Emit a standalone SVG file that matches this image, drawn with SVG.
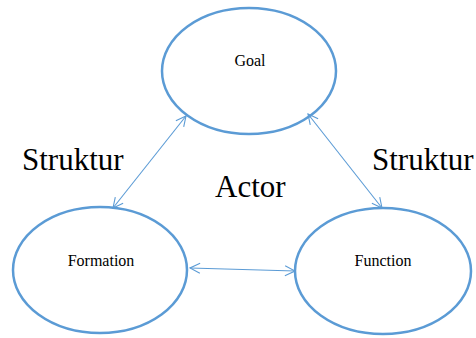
<svg xmlns="http://www.w3.org/2000/svg" width="476" height="338" viewBox="0 0 476 338">
<style>
.node{fill:#fff;stroke:#5B9BD5;stroke-width:2.5}
.lbl{font-family:"Liberation Serif","Times New Roman",serif;fill:#000}
.small{font-size:16px}
.big{font-size:31px}
.conn{stroke:#5B9BD5;stroke-width:1.1;fill:none;marker-start:url(#ah);marker-end:url(#ah)}
</style>
<defs>
<marker id="ah" viewBox="0 0 12 12" refX="11" refY="6" markerWidth="12" markerHeight="12" markerUnits="userSpaceOnUse" orient="auto-start-reverse">
<path d="M1,1 L11,6 L1,11" fill="none" stroke="#5B9BD5" stroke-width="1.1"/>
</marker>
</defs>
<rect width="476" height="338" fill="#fff"/>
<g id="goal">
<ellipse class="node" cx="249" cy="71" rx="87" ry="63"/>
<text class="lbl small" x="250" y="66" text-anchor="middle">Goal</text>
</g>
<g id="formation">
<ellipse class="node" cx="100" cy="270" rx="87" ry="63"/>
<text class="lbl small" x="101" y="266" text-anchor="middle">Formation</text>
</g>
<g id="function">
<ellipse class="node" cx="383" cy="271" rx="88" ry="63"/>
<text class="lbl small" x="383" y="266" text-anchor="middle">Function</text>
</g>
<g id="labels">
<text class="lbl big" x="22" y="170">Struktur</text>
<text class="lbl big" x="372" y="170">Struktur</text>
<text class="lbl big" x="215" y="197">Actor</text>
</g>
<g id="connectors">
<line class="conn" x1="113" y1="208" x2="186" y2="116"/>
<line class="conn" x1="308" y1="114" x2="382" y2="208"/>
<line class="conn" x1="190" y1="268" x2="295" y2="271"/>
</g>
</svg>
